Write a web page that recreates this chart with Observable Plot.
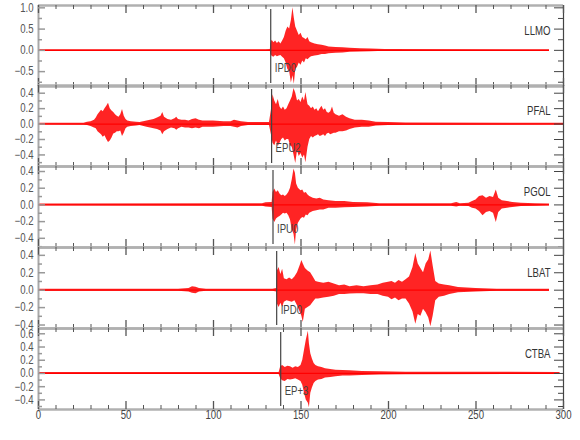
<!DOCTYPE html>
<html><head><meta charset="utf-8">
<script src="https://cdn.jsdelivr.net/npm/d3@7"></script>
<script src="https://cdn.jsdelivr.net/npm/@observablehq/plot@0.6"></script>
<style>
html,body{margin:0;padding:0;background:#fff;}
#wrap{position:relative;width:580px;height:440px;overflow:hidden;background:#fff;}
#wrap > svg{position:absolute;left:0;}
</style>
</head><body><div id="wrap"></div>
<script>
// Station names, phase picks and tick values
const stations = ["LLMO", "PFAL", "PGOL", "LBAT", "CTBA"];
const phaseNames = ["IPD0", "EPU2", "IPU0", "IPD0", "EP+3"];
const phaseTimes = [132.7, 133.2, 134.0, 136.1, 138.4];
const xTickLabels = [0, 50, 100, 150, 200, 250, 300];
const yDomains = [[-0.85, 1.055], [-0.55, 0.5], [-0.51, 0.46], [-0.44, 0.49], [-0.545, 0.68]];
const yMajorTicks = [[-0.5, 0, 0.5, 1.0], [-0.4, -0.2, 0, 0.2, 0.4], [-0.4, -0.2, 0, 0.2, 0.4], [-0.4, -0.2, 0, 0.2, 0.4], [-0.4, -0.2, 0, 0.2, 0.4, 0.6]];
const yMinorTicks = [[-0.75, -0.25, 0.25, 0.75], [-0.5, -0.3, -0.1, 0.1, 0.3], [-0.5, -0.3, -0.1, 0.1, 0.3], [-0.3, -0.1, 0.1, 0.3], [-0.5, -0.3, -0.1, 0.1, 0.3, 0.5]];

// Trace envelopes: [time s, upper, lower]
const llmo = [[0,.015,-.015],[130,.015,-.015],[132.5,.02,-.02],[132.7,.15,-.1],[133.5,.24,-.14],[134.5,.18,-.16],[135.5,.22,-.12],[136.5,.16,-.15],[137.5,.2,-.13],[138.5,.15,-.12],[139.5,.22,-.16],[140.5,.3,-.2],[141.5,.45,-.3],[142.5,.55,-.45],[143.5,.5,-.5],[144.5,.7,-.77],[145.4,1.0,-.6],[146.2,.75,-.8],[147,.55,-.45],[148,.45,-.4],[149,.35,-.3],[150,.4,-.35],[151,.3,-.25],[152,.28,-.3],[153,.25,-.2],[154,.3,-.22],[155,.2,-.18],[156,.18,-.15],[158,.15,-.13],[160,.13,-.12],[162,.12,-.1],[164,.1,-.1],[166,.08,-.08],[170,.07,-.07],[174,.06,-.06],[178,.05,-.045],[184,.04,-.04],[190,.03,-.03],[198,.02,-.02],[292,.015,-.015]];
const pfal = [[0,.01,-.01],[26,.012,-.012],[28,.025,-.02],[30,.03,-.03],[32,.05,-.05],[33,.08,-.06],[34,.12,-.1],[35,.15,-.12],[36,.18,-.14],[37,.16,-.17],[38,.2,-.15],[39,.23,-.2],[40,.27,-.24],[41,.2,-.22],[42,.17,-.18],[43,.15,-.13],[44,.12,-.12],[45,.1,-.1],[46,.09,-.1],[47,.12,-.09],[48,.19,-.16],[49,.1,-.12],[50,.06,-.06],[51,.04,-.04],[53,.03,-.03],[56,.025,-.025],[58,.02,-.02],[62,.04,-.04],[64,.05,-.05],[66,.06,-.06],[68,.08,-.07],[70,.1,-.09],[71,.15,-.14],[72,.09,-.1],[74,.06,-.07],[76,.05,-.05],[78,.07,-.06],[79,.09,-.08],[80,.06,-.06],[82,.05,-.04],[84,.05,-.05],[86,.04,-.05],[88,.06,-.06],[90,.07,-.05],[92,.05,-.06],[94,.04,-.04],[100,.04,-.04],[106,.03,-.03],[110,.03,-.03],[112,.05,-.04],[114,.04,-.05],[116,.03,-.03],[120,.02,-.02],[132,.02,-.02],[133.2,.2,-.15],[134,.38,-.25],[135,.3,-.28],[136,.25,-.22],[137,.32,-.29],[138,.22,-.25],[139,.19,-.2],[140,.22,-.18],[141,.18,-.22],[142,.2,-.2],[143,.25,-.2],[144,.3,-.28],[145,.35,-.3],[146,.46,-.4],[147,.4,-.51],[148,.3,-.35],[149,.32,-.42],[150,.28,-.38],[151,.35,-.44],[152,.3,-.4],[152.8,.41,-.5],[154,.25,-.3],[155,.23,-.2],[156,.2,-.16],[157,.22,-.18],[158,.18,-.16],[159,.2,-.15],[160,.16,-.14],[161,.2,-.16],[162,.23,-.15],[163,.18,-.14],[164,.2,-.16],[165,.15,-.13],[166,.14,-.12],[167,.16,-.14],[168,.22,-.13],[169,.14,-.12],[170,.12,-.12],[172,.1,-.1],[174,.12,-.1],[176,.09,-.09],[178,.07,-.07],[181,.05,-.05],[185,.05,-.04],[189,.04,-.04],[193,.025,-.025],[200,.02,-.02],[210,.015,-.015],[300,.01,-.01]];
const pgol = [[0,.01,-.01],[128,.015,-.015],[130,.025,-.025],[133.5,.03,-.03],[134,.15,-.17],[135,.19,-.21],[136,.15,-.17],[137,.17,-.15],[138,.13,-.14],[139,.11,-.12],[140,.12,-.1],[141,.1,-.11],[142,.12,-.1],[143,.15,-.13],[144,.2,-.18],[145,.3,-.3],[146,.43,-.35],[146.8,.38,-.48],[147.5,.25,-.3],[148.5,.2,-.22],[150,.17,-.17],[151,.18,-.15],[152,.14,-.16],[153,.15,-.12],[154,.12,-.13],[155,.1,-.1],[157,.08,-.08],[159,.07,-.07],[161,.08,-.06],[163,.06,-.06],[166,.05,-.04],[170,.04,-.04],[175,.04,-.035],[180,.03,-.03],[188,.025,-.025],[195,.015,-.015],[236,.015,-.015],[239,.03,-.025],[241,.015,-.015],[246,.02,-.02],[248,.04,-.04],[250,.06,-.05],[252,.1,-.08],[254,.11,-.13],[256,.08,-.09],[258,.1,-.08],[260,.09,-.1],[261.6,.18,-.21],[263,.08,-.09],[265,.05,-.05],[268,.04,-.04],[271,.03,-.03],[276,.02,-.02],[284,.015,-.015],[292,.01,-.01]];
const lbat = [[0,.012,-.012],[80,.012,-.012],[86,.02,-.02],[88,.04,-.035],[90,.035,-.04],[92,.02,-.02],[96,.012,-.012],[134,.012,-.012],[136.1,.02,-.02],[136.5,.22,-.16],[137.5,.26,-.2],[138.5,.18,-.15],[139.5,.24,-.2],[140.5,.13,-.14],[142,.12,-.12],[143.5,.14,-.13],[145,.12,-.14],[146.5,.15,-.12],[148,.2,-.18],[149.5,.28,-.25],[150.5,.34,-.3],[151.3,.3,-.37],[152.5,.25,-.22],[154,.22,-.2],[155.5,.2,-.18],[157,.15,-.14],[158.5,.1,-.1],[160,.09,-.1],[163,.08,-.09],[166,.09,-.08],[169,.07,-.07],[172,.05,-.05],[175,.06,-.05],[178,.04,-.045],[182,.05,-.04],[186,.04,-.04],[190,.05,-.05],[194,.06,-.05],[197,.08,-.07],[200,.09,-.08],[202,.1,-.11],[204,.08,-.09],[206,.11,-.12],[208,.09,-.1],[210,.12,-.1],[212,.15,-.16],[214,.26,-.25],[215.6,.42,-.39],[217,.3,-.28],[218.5,.25,-.3],[220,.2,-.22],[221.5,.3,-.26],[223,.35,-.32],[224.2,.45,-.42],[225.5,.28,-.3],[227,.1,-.12],[229,.07,-.08],[232,.06,-.07],[235,.05,-.05],[240,.03,-.03],[250,.02,-.02],[262,.012,-.012],[292,.012,-.012]];
const ctba = [[0,.015,-.015],[137.5,.015,-.015],[138.4,.1,-.08],[139.5,.12,-.11],[141,.09,-.12],[142.5,.11,-.09],[144,.1,-.1],[145.5,.08,-.09],[147,.1,-.08],[148.5,.09,-.1],[150,.12,-.12],[151,.2,-.18],[152,.35,-.3],[153,.5,-.4],[154.2,.64,-.45],[154.8,.45,-.52],[155.6,.3,-.3],[156.5,.22,-.22],[157.5,.15,-.15],[158.5,.12,-.12],[160,.1,-.1],[162,.09,-.09],[164,.07,-.07],[167,.06,-.06],[170,.05,-.05],[174,.045,-.04],[178,.04,-.04],[185,.03,-.03],[195,.025,-.025],[210,.02,-.02],[298,.015,-.015]];
const traces = [llmo, pfal, pgol, lbat, ctba];

const W = 580, ML = 38, MR = 17, H = 81;
const PW = W - ML - MR;
const tops = [5, 85, 166, 247, 328];
const xMinor = d3.range(0, 301, 10).filter(v => v % 50 !== 0);
const xMajor = d3.range(0, 301, 50);
const fmt = d3.format(".1f");
const FONT = "'Liberation Sans', Arial, sans-serif";
const NARROW = 0.8;

function narrowText(svg) {
  svg.querySelectorAll("text").forEach(t => {
    const tr = t.getAttribute("transform");
    if (tr === null) return;
    t.setAttribute("transform", `${tr} scale(${NARROW},1)`);
    const x = t.getAttribute("x");
    if (x !== null && !isNaN(+x) && +x !== 0) t.setAttribute("x", +x / NARROW);
  });
}

function panel(i) {
  const rows = traces[i];
  const last = i === stations.length - 1;
  const mb = last ? 31 : 0;
  const dom = yDomains[i];
  const tEnd = rows[rows.length - 1][0];
  const marks = [
    Plot.ruleY([0], {x1: 0, x2: tEnd, stroke: "#ff0000", strokeWidth: 1.2}),
    Plot.areaY(rows, {x: d => d[0], y1: d => d[2], y2: d => d[1], fill: "#ff0000", fillOpacity: 0.86}),
    Plot.ruleX([phaseTimes[i]], {stroke: "#444", strokeWidth: 1.2, insetTop: 4, insetBottom: 3}),
    Plot.text([phaseNames[i]], {x: phaseTimes[i], text: d => d, frameAnchor: "bottom", dx: 4, dy: -14.5, textAnchor: "start", fill: "#444"}),
    Plot.text([stations[i]], {text: d => d, frameAnchor: "top-right", dx: -13, dy: 20.5, textAnchor: "end", fill: "#333"}),
    // frame
    Plot.ruleY([dom[1]], {stroke: "#b0b0b0", strokeWidth: 2.5}),
    Plot.ruleY([dom[0]], {stroke: "#b0b0b0", strokeWidth: 2.5}),
    Plot.ruleX([0], {stroke: "#a8a8a8", strokeWidth: 2}),
    Plot.ruleX([300], {stroke: "#444", strokeWidth: 1.2}),
    // x ticks top and bottom, pointing inward
    Plot.tickX(xMinor, {x: d => d, insetBottom: H - 4, stroke: "#555"}),
    Plot.tickX(xMajor, {x: d => d, insetBottom: H - 8, stroke: "#555", strokeWidth: 1.3}),
    Plot.tickX(xMinor, {x: d => d, insetTop: H - 4, stroke: "#555"}),
    Plot.tickX(xMajor, {x: d => d, insetTop: H - 8, stroke: "#555", strokeWidth: 1.3}),
    // y ticks left (grey) and right (dark)
    Plot.tickY(yMajorTicks[i], {y: d => d, insetRight: PW - 7, stroke: "#999", strokeWidth: 1.5}),
    Plot.tickY(yMinorTicks[i], {y: d => d, insetRight: PW - 4, stroke: "#999", strokeWidth: 1.5}),
    Plot.tickY(yMajorTicks[i], {y: d => d, insetLeft: PW - 9, stroke: "#444"}),
    Plot.tickY(yMinorTicks[i], {y: d => d, insetLeft: PW - 5, stroke: "#444"}),
    Plot.text(yMajorTicks[i], {y: d => d, text: d => fmt(d), frameAnchor: "left", dx: -5, textAnchor: "end", fill: "#555"})
  ];
  if (last) {
    marks.push(Plot.text(xTickLabels, {x: d => d, text: d => String(d), frameAnchor: "bottom", dy: 9, fill: "#444"}));
  }
  const svg = Plot.plot({
    width: W, height: H + mb,
    marginLeft: ML, marginRight: MR, marginTop: 0, marginBottom: mb,
    x: {domain: [0, 300], axis: null},
    y: {domain: dom, axis: null},
    style: {overflow: "visible", background: "transparent", fontFamily: FONT, fontSize: "12px", color: "#444"},
    marks
  });
  narrowText(svg);
  svg.style.top = tops[i] + "px";
  return svg;
}

const wrap = document.getElementById("wrap");
stations.forEach((s, i) => wrap.appendChild(panel(i)));
</script>
</body></html>
